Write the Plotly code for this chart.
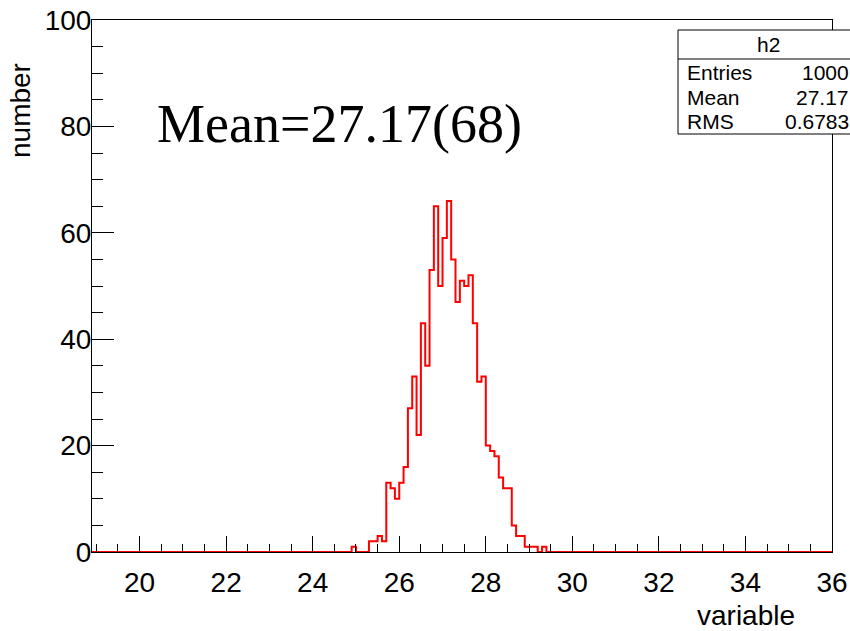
import numpy as np
import plotly.graph_objects as go

# ---- data ----
x_min, x_max, bin_width = 18.9, 36.0, 0.1
first_nonzero_bin = 24.9
counts_nonzero = [1, 0, 0, 0, 2, 2, 3, 2, 13, 12, 10, 13, 16, 27, 33, 22, 43, 35,
                  53, 65, 50, 59, 66, 55, 47, 51, 50, 52, 43, 32, 33, 20, 19, 18,
                  14, 12, 12, 5, 3, 3, 1, 1, 1, 0, 1]
x_ticks = [20, 22, 24, 26, 28, 30, 32, 34, 36]
y_ticks = [0, 20, 40, 60, 80, 100]
stats_title = "h2"
stats_rows = [("Entries", "1000"), ("Mean", "27.17"), ("RMS", "0.6783")]
mean_label = "Mean=27.17(68)"

# ---- build histogram ----
n_bins = int(round((x_max - x_min) / bin_width))
edges = np.round(x_min + bin_width * np.arange(n_bins + 1), 4)
counts = np.zeros(n_bins)
i0 = int(round((first_nonzero_bin - x_min) / bin_width))
counts[i0:i0 + len(counts_nonzero)] = counts_nonzero
xs = edges
ys = np.append(counts, counts[-1])

W, H = 850, 631
L, R, T, B = 92, 18, 20, 79
PW, PH = W - L - R, H - T - B


def px(x):
    return (x - L) / PW


def py(y):
    return 1 - (y - T) / PH


fig = go.Figure()
fig.add_trace(go.Scatter(x=xs, y=ys, mode="lines", line_shape="hv",
                         line=dict(color="#ff0000", width=2), hoverinfo="skip",
                         showlegend=False, cliponaxis=False))

tickfont = dict(family="Liberation Sans, Arial, sans-serif", size=28, color="black")

fig.update_layout(
    width=W, height=H,
    margin=dict(l=L, r=R, t=T, b=B, autoexpand=False),
    paper_bgcolor="white", plot_bgcolor="white",
    showlegend=False,
    xaxis=dict(range=[x_min, x_max], tickmode="array", tickvals=x_ticks,
               ticks="inside", ticklen=16, tickwidth=1, tickcolor="black",
               minor=dict(dtick=0.5, tick0=0, ticks="inside", ticklen=8,
                          tickcolor="black", tickwidth=1, showgrid=False),
               showline=True, linecolor="black", linewidth=1, mirror=True,
               showgrid=False, zeroline=False, tickfont=tickfont,
               ticklabelstandoff=5, automargin=False),
    yaxis=dict(range=[0, 100], tickmode="array", tickvals=y_ticks,
               ticks="inside", ticklen=22, tickwidth=1, tickcolor="black",
               minor=dict(dtick=5, tick0=0, ticks="inside", ticklen=11,
                          tickcolor="black", tickwidth=1, showgrid=False),
               showline=True, linecolor="black", linewidth=1, mirror=True,
               showgrid=False, zeroline=False, tickfont=tickfont,
               ticklabelstandoff=-6, automargin=False),
)

ann = []
# axis titles
ann.append(dict(text="variable", xref="paper", yref="paper", x=px(797), y=py(615),
                xanchor="right", yanchor="middle", showarrow=False,
                font=dict(family="Liberation Sans, Arial, sans-serif", size=28, color="black")))
ann.append(dict(text="number", xref="paper", yref="paper", x=px(21), y=py(111),
                xanchor="center", yanchor="middle", textangle=-90, showarrow=False,
                font=dict(family="Liberation Sans, Arial, sans-serif", size=28, color="black")))
# big mean label
ann.append(dict(text=mean_label, xref="paper", yref="paper", x=px(155), y=py(124),
                xanchor="left", yanchor="middle", showarrow=False,
                font=dict(family="Liberation Serif, Times New Roman, serif", size=54, color="black")))

# stats box
bx0, bx1, by0, by1, bsep = 678, 853, 30, 134, 59
shapes = [
    dict(type="rect", xref="paper", yref="paper", x0=px(bx0), x1=px(bx1),
         y0=py(by1), y1=py(by0), line=dict(color="black", width=1), fillcolor="white",
         layer="above"),
    dict(type="line", xref="paper", yref="paper", x0=px(bx0), x1=px(bx1),
         y0=py(bsep), y1=py(bsep), line=dict(color="black", width=1), layer="above"),
]
sfont = dict(family="Liberation Sans, Arial, sans-serif", size=21, color="black")
ann.append(dict(text=stats_title, xref="paper", yref="paper", x=px(768), y=py(45),
                xanchor="center", yanchor="middle", showarrow=False, font=sfont))
row_y = [72, 98, 122]
for (k, v), yy in zip(stats_rows, row_y):
    ann.append(dict(text=k, xref="paper", yref="paper", x=px(685), y=py(yy),
                    xanchor="left", yanchor="middle", showarrow=False, font=sfont))
    ann.append(dict(text=v, xref="paper", yref="paper", x=px(851), y=py(yy),
                    xanchor="right", yanchor="middle", showarrow=False, font=sfont))

fig.update_layout(annotations=ann, shapes=shapes)
fig.write_html("out.html")
